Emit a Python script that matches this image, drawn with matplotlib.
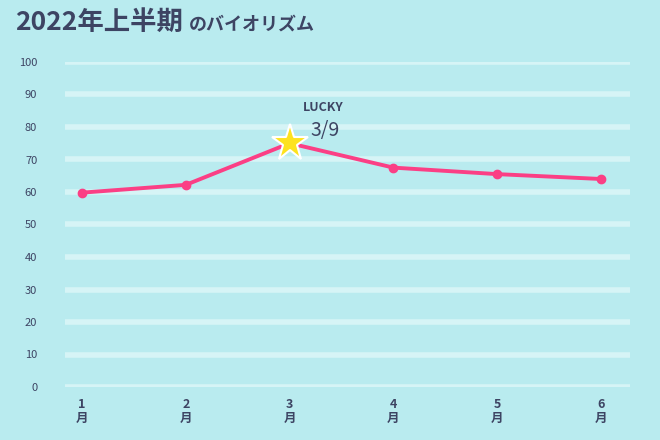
import matplotlib
matplotlib.use("Agg")
import matplotlib.pyplot as plt

months = ["1\n月", "2\n月", "3\n月", "4\n月", "5\n月", "6\n月"]
values = [59.8, 62.2, 75.0, 67.5, 65.5, 64.0]
yticks = list(range(0, 101, 10))

plt.rcParams['font.family'] = ['Noto Sans CJK JP', 'DejaVu Sans']
bg = "#b9ebef"
txt = "#3d4463"
fig = plt.figure(figsize=(6.6, 4.4), dpi=100, facecolor=bg)
ax = fig.add_axes([65/660, 1-387/440, 565/660, 325/440], facecolor=bg)
x = list(range(1, 7))
ax.set_xlim(1-17/103.8, 6+29/103.8)
ax.set_ylim(0, 100)
for y in yticks:
    ax.axhline(y, color="#d6f4f6", lw=4, zorder=1, solid_capstyle="round")
ax.plot(x, values, color="#fb3f85", lw=2.8, marker="o", ms=6, zorder=3, clip_on=False)
ax.plot(3, values[2], marker="*", ms=28, color="#fde21f", mec="white", mew=1.5, zorder=4, clip_on=False)
ax.text(3.13, 86, "LUCKY", fontsize=9, fontweight="bold", color=txt, ha="left", va="center")
ax.text(3.2, 79, "3/9", fontsize=14, color=txt, ha="left", va="center")
for s in ax.spines.values():
    s.set_visible(False)
ax.set_yticks(yticks)
ax.set_yticklabels([str(v) for v in yticks], fontsize=8, color=txt)
ax.set_xticks(x)
ax.set_xticklabels(months, fontsize=9, color=txt, fontweight="bold", linespacing=1.1)
ax.tick_params(length=0, pad=8)
ax.tick_params(axis="y", pad=20)
fig.text(15/660, 1-22/440, "2022年上半期", fontsize=19, fontweight="bold", color=txt, va="center")
fig.text(189/660, 1-24/440, "のバイオリズム", fontsize=13, fontweight="bold", color=txt, va="center")
fig.savefig("out.png", dpi=100, facecolor=bg)
